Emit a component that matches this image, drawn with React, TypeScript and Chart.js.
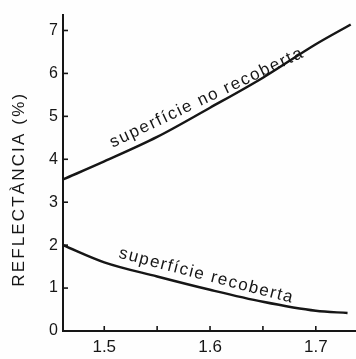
import React, { useEffect, useRef } from "react";
import { Chart, registerables } from "chart.js";
Chart.register(...registerables);

// Data
const upperX = [1.461, 1.5, 1.55, 1.6, 1.65, 1.7, 1.733];
const upperY = [3.53, 3.95, 4.52, 5.2, 5.9, 6.68, 7.14];
const lowerX = [1.461, 1.5, 1.55, 1.6, 1.65, 1.7, 1.73];
const lowerY = [2.0, 1.6, 1.27, 0.96, 0.68, 0.47, 0.42];
const yTicks = [0, 1, 2, 3, 4, 5, 6, 7];
const xTickLabels = [1.5, 1.6, 1.7];
const xMinorTicks = [1.55, 1.65];
const yTitle = "REFLECTÀNCIA (%)";
const labelUpper = "superfície no recoberta";
const labelLower = "superfície recoberta";
// label anchors in data coordinates: [startX, startY, endX, endY]
const labelUpperPos = [1.508, 4.27, 1.69, 6.4];
const labelLowerPos = [1.513, 1.71, 1.678, 0.65];

const INK = "#161616";
const FONT = "'Liberation Sans', Arial, sans-serif";

function drawSpaced(ctx: CanvasRenderingContext2D, text: string, target: number) {
  (ctx as any).letterSpacing = "0px";
  const w0 = ctx.measureText(text).width;
  const ls = (target - w0) / text.length;
  (ctx as any).letterSpacing = `${ls}px`;
  ctx.fillText(text, 0, 0);
  (ctx as any).letterSpacing = "0px";
}

const overlay = {
  id: "overlay",
  afterDraw(chart: any) {
    const ctx: CanvasRenderingContext2D = chart.ctx;
    const xs = chart.scales.x;
    const ys = chart.scales.y;
    ctx.save();
    ctx.strokeStyle = INK;
    ctx.lineWidth = 1.6;
    yTicks.forEach((v) => {
      if (v === 0) return;
      const py = ys.getPixelForValue(v);
      ctx.beginPath();
      ctx.moveTo(xs.left, py);
      ctx.lineTo(xs.left + 5, py);
      ctx.stroke();
    });
    [...xTickLabels, ...xMinorTicks].forEach((v) => {
      const px = xs.getPixelForValue(v);
      ctx.beginPath();
      ctx.moveTo(px, ys.bottom);
      ctx.lineTo(px, ys.bottom - 5);
      ctx.stroke();
    });

    ctx.fillStyle = INK;
    // y axis title
    ctx.save();
    ctx.font = `17px ${FONT}`;
    ctx.textBaseline = "middle";
    ctx.textAlign = "left";
    const cy = ys.getPixelForValue(3.29);
    ctx.translate(19, cy + 97);
    ctx.rotate(-Math.PI / 2);
    drawSpaced(ctx, yTitle, 195);
    ctx.restore();

    // curve labels
    const drawLabel = (text: string, pos: number[]) => {
      const x0 = xs.getPixelForValue(pos[0]);
      const y0 = ys.getPixelForValue(pos[1]);
      const x1 = xs.getPixelForValue(pos[2]);
      const y1 = ys.getPixelForValue(pos[3]);
      const ang = Math.atan2(y1 - y0, x1 - x0);
      const len = Math.hypot(x1 - x0, y1 - y0);
      ctx.save();
      ctx.font = `17px ${FONT}`;
      ctx.textBaseline = "alphabetic";
      ctx.textAlign = "left";
      ctx.translate(x0, y0);
      ctx.rotate(ang);
      drawSpaced(ctx, text, len);
      ctx.restore();
    };
    drawLabel(labelUpper, labelUpperPos);
    drawLabel(labelLower, labelLowerPos);
    ctx.restore();
  },
};

const bg = {
  id: "bg",
  beforeDraw(chart: any) {
    const ctx = chart.ctx;
    ctx.save();
    ctx.fillStyle = "#fefefe";
    ctx.fillRect(0, 0, chart.width, chart.height);
    ctx.restore();
  },
};

export default function App() {
  const ref = useRef<HTMLCanvasElement>(null);
  useEffect(() => {
    document.body.style.margin = "0";
    const chart = new Chart(ref.current as HTMLCanvasElement, {
      type: "line",
      data: {
        datasets: [
          {
            label: labelUpper,
            data: upperX.map((x, i) => ({ x, y: upperY[i] })),
            borderColor: INK,
            borderWidth: 2.5,
            pointRadius: 0,
            cubicInterpolationMode: "monotone",
            fill: false,
          },
          {
            label: labelLower,
            data: lowerX.map((x, i) => ({ x, y: lowerY[i] })),
            borderColor: INK,
            borderWidth: 2.5,
            pointRadius: 0,
            cubicInterpolationMode: "monotone",
            fill: false,
          },
        ],
      },
      options: {
        animation: false,
        responsive: false,
        maintainAspectRatio: false,
        layout: { padding: { top: 12, right: 0, left: 0, bottom: 0 } },
        plugins: { legend: { display: false }, tooltip: { enabled: false } },
        scales: {
          x: {
            type: "linear",
            min: 1.461,
            max: 1.738,
            grid: { display: false, drawTicks: false },
            border: { display: true, color: INK, width: 2 },
            afterBuildTicks: (s: any) => {
              s.ticks = xTickLabels.map((v) => ({ value: v }));
            },
            afterFit: (s: any) => {
              s.height = 28;
            },
            ticks: {
              color: INK,
              padding: 6,
              font: { family: FONT, size: 17 },
              callback: (v: any) => Number(v).toFixed(1),
            },
          },
          y: {
            type: "linear",
            min: 0,
            max: 7.37,
            grid: { display: false, drawTicks: false },
            border: { display: true, color: INK, width: 2 },
            afterBuildTicks: (s: any) => {
              s.ticks = yTicks.map((v) => ({ value: v }));
            },
            afterFit: (s: any) => {
              s.width = 63;
            },
            ticks: {
              color: INK,
              padding: 5,
              font: { family: FONT, size: 16 },
              callback: (v: any) => String(v),
            },
          },
        },
      },
      plugins: [bg, overlay],
    });
    return () => chart.destroy();
  }, []);
  return (
    <div style={{ position: "absolute", left: 0, top: 0, width: 356, height: 359 }}>
      <canvas ref={ref} width={356} height={359} style={{ display: "block" }} />
    </div>
  );
}
